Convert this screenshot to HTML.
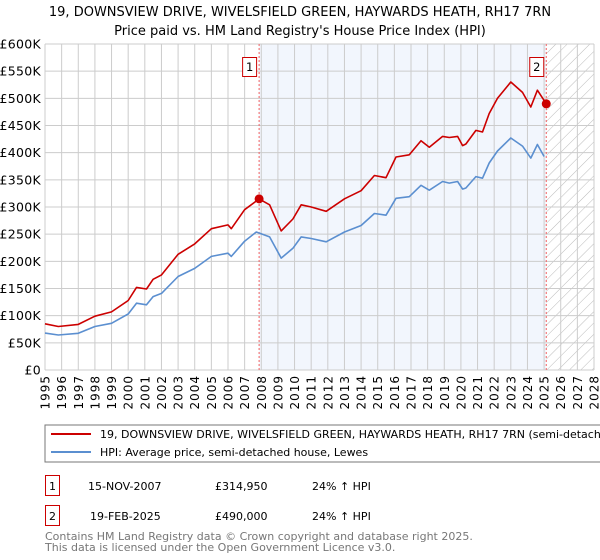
<!DOCTYPE html>
<html><head><meta charset="utf-8">
<style>
body{margin:0;background:#fff;width:600px;height:560px;overflow:hidden;font-family:"DejaVu Sans","Liberation Sans",sans-serif;}
svg{position:absolute;left:0;top:0}
</style></head>
<body>
<svg id="chart" width="600" height="560">
<defs>
<pattern id="hatch" width="8" height="8" patternUnits="userSpaceOnUse" patternTransform="rotate(45)">
<line x1="0" y1="0" x2="0" y2="8" stroke="#bbb" stroke-width="1"/>
</pattern>
</defs>
<text x="300" y="16" text-anchor="middle" font-size="13" fill="#000">19, DOWNSVIEW DRIVE, WIVELSFIELD GREEN, HAYWARDS HEATH, RH17 7RN</text>
<text x="300" y="35" text-anchor="middle" font-size="13" fill="#000">Price paid vs. HM Land Registry's House Price Index (HPI)</text>
<g id="plot"></g>
<rect x="45" y="425" width="570" height="37" fill="#fff" stroke="#777" stroke-width="1"/>
<line x1="51" y1="434" x2="91" y2="434" stroke="#cc0000" stroke-width="2"/>
<text x="100" y="438" font-size="11">19, DOWNSVIEW DRIVE, WIVELSFIELD GREEN, HAYWARDS HEATH, RH17 7RN (semi-detached house)</text>
<line x1="51" y1="452" x2="91" y2="452" stroke="#5b8fd0" stroke-width="2"/>
<text x="100" y="456" font-size="11">HPI: Average price, semi-detached house, Lewes</text>
<g>
<rect x="45.5" y="475.5" width="14" height="20" fill="#fff" stroke="#cc0000"/>
<text x="52.5" y="490" text-anchor="middle" font-size="11">1</text>
<text x="88" y="490" font-size="11">15-NOV-2007</text>
<text x="215" y="490" font-size="11">£314,950</text>
<text x="312" y="490" font-size="11">24% ↑ HPI</text>
</g>
<g>
<rect x="45.5" y="505.5" width="14" height="20" fill="#fff" stroke="#cc0000"/>
<text x="52.5" y="520" text-anchor="middle" font-size="11">2</text>
<text x="90" y="520" font-size="11">19-FEB-2025</text>
<text x="215" y="520" font-size="11">£490,000</text>
<text x="312" y="520" font-size="11">24% ↑ HPI</text>
</g>
<text x="45" y="540" font-size="11" fill="#777">Contains HM Land Registry data © Crown copyright and database right 2025.</text>
<text x="45" y="551" font-size="11" fill="#777">This data is licensed under the Open Government Licence v3.0.</text>
</svg>
<script>
const yearTicks=[1995,1996,1997,1998,1999,2000,2001,2002,2003,2004,2005,2006,2007,2008,2009,2010,2011,2012,2013,2014,2015,2016,2017,2018,2019,2020,2021,2022,2023,2024,2025,2026,2027,2028];
const valueTicks=[0,50000,100000,150000,200000,250000,300000,350000,400000,450000,500000,550000,600000];
const valueTickLabels=["£0","£50K","£100K","£150K","£200K","£250K","£300K","£350K","£400K","£450K","£500K","£550K","£600K"];
const hpiYears=[1995,1995.8,1997,1998,1999,2000,2000.5,2001.1,2001.5,2002,2003,2004,2005,2006,2006.2,2007,2007.7,2008.5,2009.2,2009.9,2010.4,2011,2011.9,2013,2014,2014.8,2015.5,2016.1,2016.9,2017.6,2018.1,2018.9,2019.3,2019.8,2020.1,2020.3,2020.9,2021.3,2021.7,2022.2,2023,2023.7,2024.2,2024.6,2025.0];
const hpiValues=[68000,64500,67500,80000,86000,103000,123000,120000,135000,141000,172000,187000,209000,215000,209000,237000,254000,245000,206000,224000,245000,242000,236000,254000,266000,288000,285000,316000,319000,340000,331000,347000,344000,347000,333000,335000,356000,353000,381000,403000,427000,412000,390000,415000,393000];
const paidYears=[1995,1995.8,1997,1998,1999,2000,2000.5,2001.1,2001.5,2002,2003,2004,2005,2006,2006.2,2007,2007.87,2008.5,2009.2,2009.9,2010.4,2011,2011.9,2013,2014,2014.8,2015.5,2016.1,2016.9,2017.6,2018.1,2018.9,2019.3,2019.8,2020.1,2020.3,2020.9,2021.3,2021.7,2022.2,2023,2023.7,2024.2,2024.6,2025.13];
const paidValues=[85000,80000,84000,99000,107000,128000,152000,149000,167000,175000,213000,232000,260000,267000,260000,295000,314950,304000,256000,278000,304000,300000,292000,315000,330000,358000,354000,392000,396000,422000,410000,430000,428000,430000,413000,416000,441000,438000,472000,500000,530000,511000,484000,515000,490000];
const saleYears=[2007.87,2025.13];
const saleValues=[314950,490000];
const saleLabels=["1","2"];

const X0=45,X1=594,Y0=370,Y1=44;
const xs=y=>X0+(y-1995)/(2028-1995)*(X1-X0);
const ys=v=>Y0-v/600000*(Y0-Y1);
const NS="http://www.w3.org/2000/svg";
const plot=document.getElementById('plot');
function mk(t,a,parent){const e=document.createElementNS(NS,t);for(const k in a)e.setAttribute(k,a[k]);(parent||plot).appendChild(e);return e;}

const shade=mk('rect',{x:xs(saleYears[0]),y:Y1,width:xs(saleYears[1])-xs(saleYears[0]),height:Y0-Y1,fill:'#eef3fc',opacity:0.75});


const hat=mk('rect',{x:xs(saleYears[1]),y:Y1,width:X1-xs(saleYears[1]),height:Y0-Y1,fill:'url(#hatch)'});



yearTicks.forEach(yr=>{
  const g=mk('line',{x1:xs(yr),x2:xs(yr),y1:Y1,y2:Y0,stroke:'#ccc','stroke-width':1});
  
  
  const t=mk('text',{transform:`translate(${xs(yr)+4.5},${Y0+5}) rotate(-90)`,'text-anchor':'end','font-size':12,'letter-spacing':'1'});
  t.textContent=yr;
  
  
});
valueTicks.forEach((v,i)=>{
  const g=mk('line',{x1:X0,x2:X1,y1:ys(v),y2:ys(v),stroke:'#ccc','stroke-width':1});
  
  
  const t=mk('text',{x:41,y:ys(v)+4.5,'text-anchor':'end','font-size':12.5,'letter-spacing':'0.3'});
  t.textContent=valueTickLabels[i];
  
  
});
saleYears.forEach((yr,i)=>{
  const l=mk('line',{x1:xs(yr),x2:xs(yr),y1:Y1,y2:Y0,stroke:'#f06060','stroke-width':1,'stroke-dasharray':'2,2'});
  
  
});
function path(xa,va,color,name){
  const d=xa.map((x,i)=>(i?'L':'M')+xs(x).toFixed(1)+','+ys(va[i]).toFixed(1)).join('');
  const p=mk('path',{d:d,fill:'none',stroke:color,'stroke-width':1.6,'stroke-linejoin':'round'});
  
  
}
path(hpiYears,hpiValues,'#5b8fd0','hpi-line');
path(paidYears,paidValues,'#cc0000','price-paid-line');
saleYears.forEach((yr,i)=>{
  const c=mk('circle',{cx:xs(yr),cy:ys(saleValues[i]),r:4.5,fill:'#cc0000'});
  
  
  const bx=xs(yr)-16;
  const r=mk('rect',{x:bx-0.5,y:57.5,width:14,height:19,fill:'#fff',stroke:'#cc0000'});
  
  
  const t=mk('text',{x:bx+6.5,y:71,'text-anchor':'middle','font-size':11.5});
  t.textContent=saleLabels[i];
  
  
});
</script>
</body></html>
